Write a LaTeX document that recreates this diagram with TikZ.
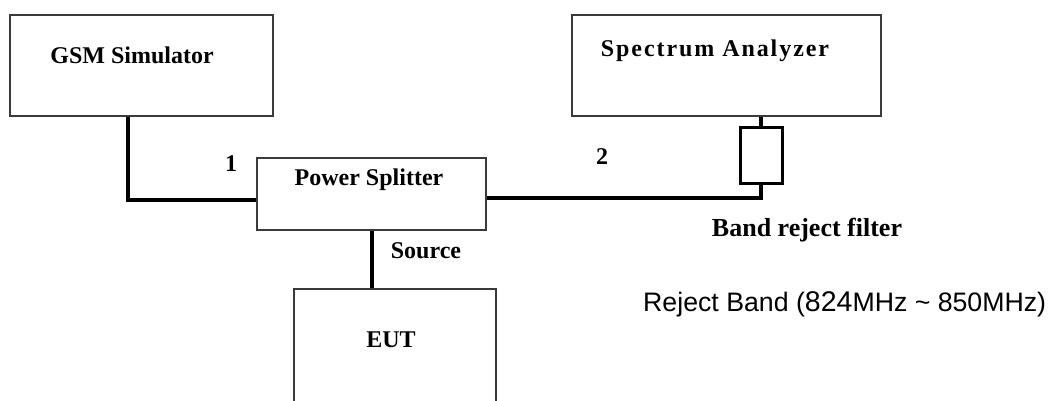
\documentclass[tikz,border=0pt]{standalone}
\usepackage{fontspec}
\setmainfont{Liberation Serif}
\newfontfamily\plainsans{Liberation Sans}
\usepackage{tikz}
\usetikzlibrary{calc}
\definecolor{edgegray}{HTML}{3A3A3A}
\def\drawcable{\draw[color=black, line width=4pt]}
\def\unitnode{\node[draw=edgegray,line width=1.6pt,inner sep=0pt]}
\def\filternode{\node[draw=black,line width=3pt,inner sep=0pt,minimum width=42pt,minimum height=55pt]}
\def\textnode{\node[inner sep=0pt,font=\bfseries\fontsize{24}{28}\selectfont]}

\begin{document}
\begin{tikzpicture}[x=1pt,y=-1pt]
\useasboundingbox (0,0) rectangle (1052,401);
\clip (0,0) rectangle (1052,401);
\unitnode[minimum width=263pt,minimum height=101pt] (gsm) at (141.5,65.5) {};
\unitnode[minimum width=309pt,minimum height=101pt] (sa) at (726.5,65.5) {};
\unitnode[minimum width=229pt,minimum height=72pt] (splitter) at (371.5,194) {};
\unitnode[minimum width=202pt,minimum height=150pt,anchor=north] (eut) at (395,288) {};
\filternode (filter) at (761,155.5) {};
\drawcable ([yshift=-6pt]splitter.west) -| ([xshift=-13.5pt]gsm.south);
\drawcable ([yshift=-4pt]splitter.east) -| (filter.south);
\drawcable (filter.north) to (filter.north |- sa.south);
\drawcable (splitter.south) to (splitter.south |- eut.north);
\textnode (gsm_t) at (132,55) {GSM Simulator};
\textnode (sa_t) at (715,51) {\addfontfeature{LetterSpace=8}Spectrum Analyzer};
\textnode (splitter_t) at (369,180) {Power Splitter};
\textnode (eut_t) at (391,340) {EUT};
\textnode (port1) at (231,164) {1};
\textnode (port2) at (602,157) {2};
\textnode (source_t) at (426,251) {Source};
\textnode[font=\bfseries\fontsize{26}{30}\selectfont] (filter_t) at (807,230) {Band reject filter};
\node[inner sep=0pt,anchor=base west] (band) at (643,311) {\plainsans\fontsize{26.7}{30}\selectfont Reject Band ({\fontsize{28.5}{30}\selectfont 824}MHz \textasciitilde{} 850MHz)};
\end{tikzpicture}
\end{document}
